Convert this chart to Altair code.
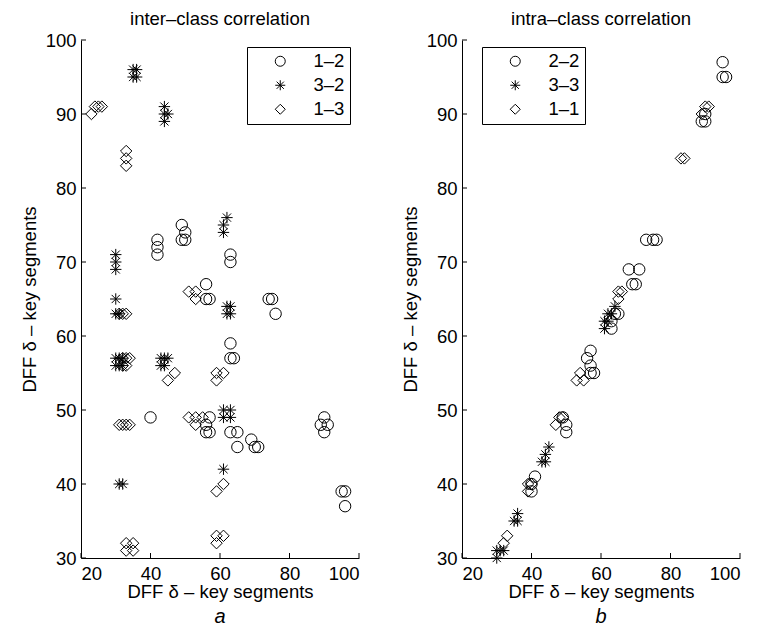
import altair as alt
import pandas as pd

FONT = "Liberation Sans"
W, H = 278, 518
FS = 18.5

# ---------------- panel a : inter-class correlation ----------------
a_names = ["1–2", "3–2", "1–3"]
c12_x = [40, 42, 42, 42, 49, 50, 49, 50, 56, 56, 57, 63, 63, 63, 63, 64, 57, 56, 56, 57,
         63, 65, 65, 69, 70, 71, 74, 75, 76, 90, 89, 91, 90, 95, 96, 96]
c12_y = [49, 73, 72, 71, 75, 74, 73, 73, 67, 65, 65, 71, 70, 59, 57, 57, 49, 48, 47, 47,
         47, 47, 45, 46, 45, 45, 65, 65, 63, 49, 48, 48, 47, 39, 39, 37]
s32_x = [35, 36, 35, 36, 44, 44, 45, 44, 30, 30, 30, 30, 30, 31, 30, 31, 32, 30, 31, 32,
         43, 44, 45, 43, 44, 62, 61, 61, 62, 63, 62, 63, 61, 63, 61, 63, 61, 31, 32]
s32_y = [96, 96, 95, 95, 91, 90, 90, 89, 71, 70, 69, 65, 63, 63, 57, 57, 57, 56, 56, 56,
         57, 57, 57, 56, 56, 76, 75, 74, 64, 64, 63, 63, 50, 50, 49, 49, 42, 40, 40]
d13_x = [23, 24, 25, 26, 33, 33, 33, 31, 32, 33, 32, 33, 32, 33, 34, 51, 53, 53, 45, 47,
         59, 61, 59, 31, 32, 33, 34, 51, 53, 53, 55, 59, 61, 59, 61, 59, 33, 35, 33, 35]
d13_y = [90, 91, 91, 91, 85, 84, 83, 63, 63, 63, 57, 57, 56, 56, 57, 66, 66, 65, 54, 55,
         55, 55, 54, 48, 48, 48, 48, 49, 49, 48, 49, 39, 40, 33, 33, 32, 32, 32, 31, 31]

# ---------------- panel b : intra-class correlation ----------------
b_names = ["2–2", "3–3", "1–1"]
c22_x = [95, 95, 96, 89, 90, 90, 73, 75, 76, 68, 71, 69, 70, 63, 64, 65, 63,
         57, 56, 57, 57, 58, 49, 50, 50, 41, 40, 40]
c22_y = [97, 95, 95, 89, 89, 90, 73, 73, 73, 69, 69, 67, 67, 61, 63, 63, 62,
         58, 57, 56, 55, 55, 49, 48, 47, 41, 39, 40]
s33_x = [61, 62, 61, 63, 62, 64, 45, 44, 43, 44, 36, 35, 36, 30, 31, 32, 30]
s33_y = [61, 62, 62, 63, 63, 64, 45, 44, 43, 43, 36, 35, 35, 31, 31, 31, 30]
d11_x = [90, 91, 89, 83, 84, 65, 66, 65, 54, 53, 55, 47, 48, 49, 39, 39, 40, 33, 32]
d11_y = [91, 91, 90, 84, 84, 66, 66, 65, 55, 54, 54, 48, 49, 49, 40, 39, 40, 33, 32]

x_ticks = [20, 40, 60, 80, 100]
y_ticks = [30, 40, 50, 60, 70, 80, 90, 100]
axis_title = "DFF δ – key segments"

ASTERISK = "M-1,0L1,0M0,-1L0,1M-0.72,-0.72L0.72,0.72M-0.72,0.72L0.72,-0.72"
SHAPES = ["circle", ASTERISK, "diamond"]


def panel(series, names, top_title, letter, leg_x):
    rows = []
    for name, xs, ys in series:
        for xv, yv in zip(xs, ys):
            rows.append({"x": xv, "y": yv, "s": name})
    df = pd.DataFrame(rows)

    xenc = alt.X("x:Q",
                 scale=alt.Scale(domain=[20, 100], nice=False, zero=False),
                 axis=alt.Axis(values=x_ticks, ticks=False, grid=False,
                               domainColor="black", labelColor="black",
                               labelFontSize=FS, labelPadding=6,
                               title=axis_title, titleFontSize=FS,
                               titleFontWeight="normal", titleColor="black",
                               titlePadding=0))
    yenc = alt.Y("y:Q",
                 scale=alt.Scale(domain=[30, 100], nice=False, zero=False),
                 axis=alt.Axis(values=y_ticks, ticks=False, grid=False,
                               domainColor="black", labelColor="black",
                               labelFontSize=FS, labelPadding=5,
                               title=axis_title, titleFontSize=FS,
                               titleFontWeight="normal", titleColor="black",
                               titlePadding=6))

    pts = alt.Chart(df).mark_point(filled=False, color="black", strokeWidth=1,
                                   size=130, opacity=1).encode(
        x=xenc, y=yenc,
        shape=alt.Shape("s:N", scale=alt.Scale(domain=names, range=SHAPES),
                        legend=alt.Legend(orient="none", legendX=leg_x, legendY=7,
                                          title=None, labelFontSize=FS,
                                          labelColor="black", labelFont=FONT,
                                          labelExpr="datum.label + '\u00a0\u00a0'",
                                          symbolStrokeColor="black",
                                          symbolFillColor="transparent",
                                          symbolStrokeWidth=1, symbolSize=100,
                                          strokeColor="black", fillColor="white",
                                          padding=5, rowPadding=5,
                                          symbolOffset=19, labelOffset=24,
                                          cornerRadius=0)),
    )

    xt = alt.Chart(pd.DataFrame({"x": x_ticks})).mark_rule(
        color="black", strokeWidth=1).encode(
        x=xenc, y=alt.value(H), y2=alt.value(H - 5))
    yt = alt.Chart(pd.DataFrame({"y": y_ticks})).mark_rule(
        color="black", strokeWidth=1).encode(
        y=yenc, x=alt.value(0), x2=alt.value(5))
    lab = alt.Chart(pd.DataFrame({"t": [letter]})).mark_text(
        fontSize=20, fontStyle="italic", color="black", baseline="bottom",
        align="center", font=FONT).encode(
        text="t:N", x=alt.value(W / 2), y=alt.value(H + 69))

    return alt.layer(pts, xt, yt, lab).properties(
        width=W, height=H,
        title=alt.Title(top_title, fontSize=FS, fontWeight="normal",
                        color="black", anchor="middle", offset=3, font=FONT))


left = panel([("1–2", c12_x, c12_y), ("3–2", s32_x, s32_y), ("1–3", d13_x, d13_y)],
             a_names, "inter–class correlation", "a", 166)
right = panel([("2–2", c22_x, c22_y), ("3–3", s33_x, s33_y), ("1–1", d11_x, d11_y)],
              b_names, "intra–class correlation", "b", 20)

chart = alt.hconcat(left, right, spacing=41).resolve_scale(
    shape="independent").resolve_legend(shape="independent").properties(
    padding={"left": 20, "top": 9, "right": 0, "bottom": 0}
).configure(font=FONT).configure_view(stroke=None)

chart.save("out.html", embed_options={"renderer": "svg", "actions": False})
